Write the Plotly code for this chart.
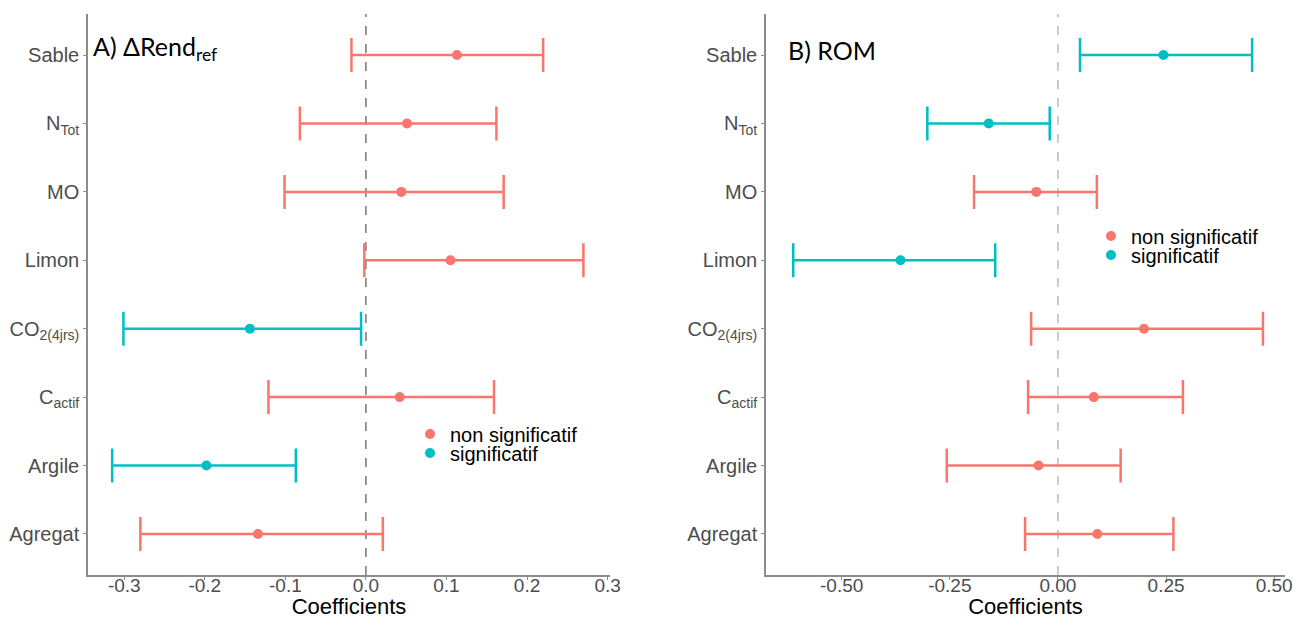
import plotly.graph_objects as go

# ---- data ----
categories = ["Agregat", "Argile", "C<sub>actif</sub>", "CO<sub>2(4jrs)</sub>",
              "Limon", "MO", "N<sub>Tot</sub>", "Sable"]

est_A = [-0.134, -0.198, 0.042, -0.144, 0.105, 0.044, 0.051, 0.113]
lo_A = [-0.280, -0.315, -0.121, -0.301, -0.002, -0.101, -0.082, -0.018]
hi_A = [0.021, -0.087, 0.159, -0.006, 0.270, 0.171, 0.162, 0.220]
sig_A = [False, True, False, True, False, False, False, False]

est_B = [0.091, -0.045, 0.083, 0.199, -0.364, -0.050, -0.160, 0.244]
lo_B = [-0.076, -0.257, -0.069, -0.062, -0.612, -0.194, -0.302, 0.051]
hi_B = [0.267, 0.145, 0.289, 0.474, -0.145, 0.090, -0.019, 0.449]
sig_B = [False, False, False, False, True, False, True, True]

ticks_A = [-0.3, -0.2, -0.1, 0.0, 0.1, 0.2, 0.3]
ticktext_A = ["-0.3", "-0.2", "-0.1", "0.0", "0.1", "0.2", "0.3"]
ticks_B = [-0.5, -0.25, 0.0, 0.25, 0.5]
ticktext_B = ["-0.50", "-0.25", "0.00", "0.25", "0.50"]

groups = [("non significatif", False, "#F8766D"), ("significatif", True, "#00BFC4")]

W, H = 1293, 619
FONT = "Arial, Liberation Sans, sans-serif"
fig = go.Figure()


def add_panel(est, lo, hi, sig, xa, ya, legends):
    for (name, flag, color), leg in zip(groups, legends):
        idx = [i for i in range(len(categories)) if sig[i] == flag]
        fig.add_trace(go.Scatter(
            x=[est[i] for i in idx],
            y=[categories[i] for i in idx],
            mode="markers",
            name=name,
            legend=leg,
            showlegend=True,
            xaxis=xa, yaxis=ya,
            marker=dict(color=color, size=10, symbol="circle"),
            error_x=dict(type="data", symmetric=False,
                         array=[hi[i] - est[i] for i in idx],
                         arrayminus=[est[i] - lo[i] for i in idx],
                         color=color, thickness=2.5, width=17),
        ))


add_panel(est_A, lo_A, hi_A, sig_A, "x", "y", ["legend", "legend2"])
add_panel(est_B, lo_B, hi_B, sig_B, "x2", "y2", ["legend3", "legend4"])

ydom = [(H - 575) / H, (H - 14) / H]
axis_common = dict(showgrid=False, zeroline=False, showline=True, linecolor="#8c8c8c",
                   linewidth=1.5, ticks="outside", tickcolor="#8c8c8c",
                   automargin=False, ticklabeloverflow="allow")
title_font = dict(family=FONT, size=22, color="black")
xtickfont = dict(family=FONT, size=19, color="#4D4D4D")
ytickfont = dict(family=FONT, size=20, color="#4D4D4D")


def leg(xpx, ypx):
    return dict(x=xpx / W, y=(H - ypx) / H, xanchor="left", yanchor="middle",
                bgcolor="rgba(0,0,0,0)", font=dict(family=FONT, size=20, color="black"),
                itemwidth=30, tracegroupgap=0, borderwidth=0, visible=True)


fig.update_layout(
    width=W, height=H,
    margin=dict(l=0, r=0, t=0, b=0),
    paper_bgcolor="white", plot_bgcolor="white",
    font=dict(family=FONT),
    showlegend=True,
    xaxis=dict(domain=[88 / W, 610 / W], range=[-0.345, 0.303],
               tickvals=ticks_A, ticktext=ticktext_A, ticklen=3, ticklabelstandoff=-11,
               tickfont=xtickfont,
               title=dict(text="Coefficients", standoff=8, font=title_font),
               anchor="y", **axis_common),
    yaxis=dict(domain=ydom, type="category", categoryorder="array", categoryarray=categories,
               range=[-0.6, 7.6], anchor="x", ticklen=3, tickfont=ytickfont, **axis_common),
    xaxis2=dict(domain=[766 / W, 1285 / W], range=[-0.675, 0.525],
                tickvals=ticks_B, ticktext=ticktext_B, ticklen=3, ticklabelstandoff=-11,
                tickfont=xtickfont,
                title=dict(text="Coefficients", standoff=8, font=title_font),
                anchor="y2", **axis_common),
    yaxis2=dict(domain=ydom, type="category", categoryorder="array", categoryarray=categories,
                range=[-0.6, 7.6], anchor="x2", ticklen=3, tickfont=ytickfont, **axis_common),
    legend=leg(410, 434),
    legend2=leg(410, 453),
    legend3=leg(1091, 236),
    legend4=leg(1091, 255),
    shapes=[
        dict(type="line", xref="x", yref="y domain", x0=0, x1=0, y0=0, y1=1,
             line=dict(color="#555555", width=1.2, dash="dash"), layer="below"),
        dict(type="line", xref="x2", yref="y2 domain", x0=0, x1=0, y0=0, y1=1,
             line=dict(color="#bbbbbb", width=1.5, dash="dash"), layer="below"),
    ],
    annotations=[
        dict(text="A) ΔRend<sub>ref</sub>", xref="paper", yref="paper",
             x=91 / W, y=(H - 48) / H, xanchor="left", yanchor="middle", showarrow=False,
             font=dict(family="Lato, Open Sans", size=25, color="black")),
        dict(text="B) ROM", xref="paper", yref="paper",
             x=786 / W, y=(H - 50) / H, xanchor="left", yanchor="middle", showarrow=False,
             font=dict(family="Lato, Open Sans", size=25, color="black")),
    ],
)

fig.write_html("out.html")
